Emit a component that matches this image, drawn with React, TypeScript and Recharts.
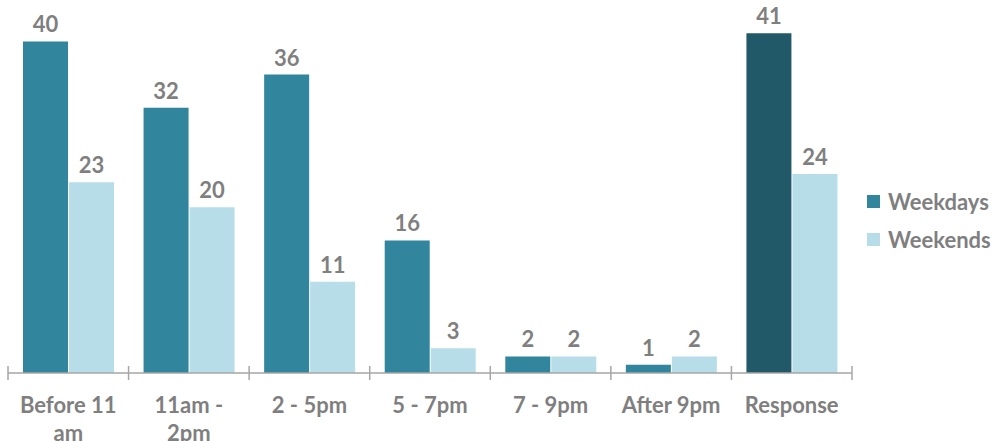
import React from 'react';
import { BarChart, Bar, XAxis, YAxis, Legend, LabelList, Cell } from 'recharts';

const categories = ['Before 11 am', '11am - 2pm', '2 - 5pm', '5 - 7pm', '7 - 9pm', 'After 9pm', 'Response'];
const weekdays = [40, 32, 36, 16, 2, 1, 41];
const weekends = [23, 20, 11, 3, 2, 2, 24];

const data = categories.map((name, i) => ({ name, weekdays: weekdays[i], weekends: weekends[i] }));

const GREY = '#7f7f7f';
const AXIS = '#a6a6a6';
const FONT = 'Lato, "Open Sans", sans-serif';
const WEEKDAY = '#31859c';
const WEEKEND = '#b7dee8';
const HIGHLIGHT = '#215968';
const labelStyle = { fontFamily: FONT, fontWeight: 700, fontSize: 22 };

// greedy word wrap, about 9 characters per line
const wrap = (s: string, max = 9) => {
    const lines: string[] = [];
    let cur = '';
    s.split(' ').forEach((w) => {
        const next = cur ? cur + ' ' + w : w;
        if (next.length > max && cur) {
            lines.push(cur);
            cur = w;
        } else {
            cur = next;
        }
    });
    if (cur) lines.push(cur);
    return lines;
};

const CategoryTick = (props: any) => {
    const { x, y, payload, index, visibleTicksCount, width } = props;
    const half = payload.offset || width / visibleTicksCount / 2;
    const lines = wrap(String(payload.value));
    return (
        <g>
            <line x1={x - half} x2={x - half} y1={y - 7} y2={y + 7} stroke={AXIS} strokeWidth={1.5} />
            {index === visibleTicksCount - 1 && (
                <line x1={x + half} x2={x + half} y1={y - 7} y2={y + 7} stroke={AXIS} strokeWidth={1.5} />
            )}
            <text x={x} y={y + 40} textAnchor="middle" fill={GREY} style={labelStyle}>
                {lines.map((l, i) => (
                    <tspan key={i} x={x} dy={i === 0 ? 0 : 28}>
                        {l}
                    </tspan>
                ))}
            </text>
        </g>
    );
};

const LegendContent = () => (
    <div style={{ width: 142, paddingLeft: 15, boxSizing: 'border-box', fontFamily: FONT, fontWeight: 700, fontSize: 22, color: GREY }}>
        {[
            { label: 'Weekdays', color: WEEKDAY },
            { label: 'Weekends', color: WEEKEND },
        ].map((item) => (
            <div key={item.label} style={{ display: 'flex', alignItems: 'center', height: 38 }}>
                <span style={{ width: 13, height: 13, background: item.color, marginRight: 8, display: 'inline-block' }} />
                {item.label}
            </div>
        ))}
    </div>
);

export default function App() {
    return (
        <div style={{ position: 'absolute', left: 0, top: 0, width: 994, height: 441, background: '#fff' }}>
            <BarChart
                width={994}
                height={441}
                data={data}
                margin={{ top: 0, right: 0, left: 8, bottom: 0 }}
                barCategoryGap={15}
                barGap={1}
            >
                <XAxis
                    dataKey="name"
                    height={68}
                    axisLine={{ stroke: AXIS, strokeWidth: 1.5 }}
                    tickLine={false}
                    tickSize={0}
                    tickMargin={0}
                    interval={0}
                    tick={<CategoryTick />}
                />
                <YAxis hide domain={[0, 45]} />
                <Legend layout="vertical" align="right" verticalAlign="middle" content={<LegendContent />} />
                <Bar dataKey="weekdays" name="Weekdays" fill={WEEKDAY} isAnimationActive={false}>
                    {data.map((d, i) => (
                        <Cell key={d.name} fill={i === data.length - 1 ? HIGHLIGHT : WEEKDAY} />
                    ))}
                    <LabelList dataKey="weekdays" position="top" offset={9} fill={GREY} style={labelStyle} />
                </Bar>
                <Bar dataKey="weekends" name="Weekends" fill={WEEKEND} isAnimationActive={false}>
                    <LabelList dataKey="weekends" position="top" offset={9} fill={GREY} style={labelStyle} />
                </Bar>
            </BarChart>
        </div>
    );
}
